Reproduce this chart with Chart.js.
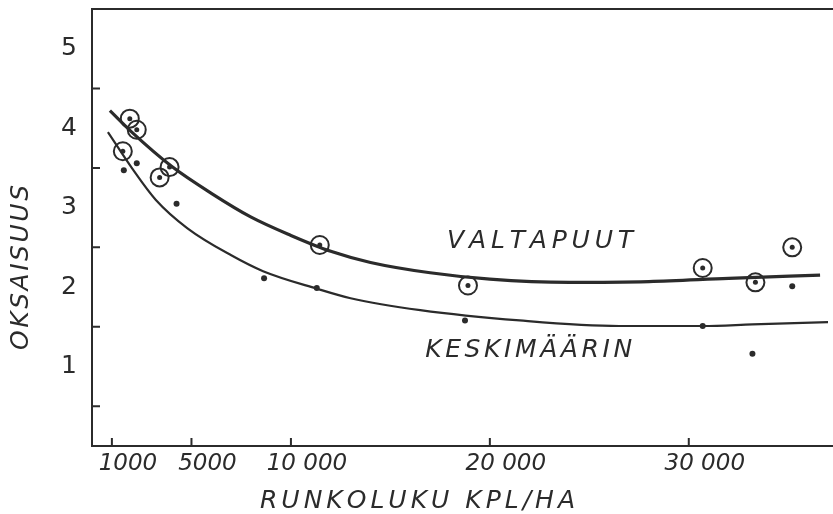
<!DOCTYPE html>
<html>
<head>
<meta charset="utf-8">
<script src="https://cdn.jsdelivr.net/npm/chart.js@4.4.1/dist/chart.umd.min.js"></script>
<style>
body { margin: 0; background: #fff; }
#wrap { width: 833px; height: 514px; position: relative; }
</style>
</head>
<body>
<div id="wrap"><canvas id="myChart"></canvas></div>
<script>
// measured points: valtapuut (ringed) and keskimäärin (dots)
var valtaX = [1550, 1900, 2250, 3400, 3900, 11450, 18900, 30700, 33350, 35200]
var valtaY = [3.71, 4.12, 3.98, 3.38, 3.51, 2.53, 2.02, 2.24, 2.06, 2.50]

var keskiX = [1600, 2250, 4250, 8650, 11300, 18750, 30700, 33200, 35200]
var keskiY = [3.47, 3.56, 3.05, 2.11, 1.99, 1.58, 1.51, 1.16, 2.01]

// fitted curves as drawn
var valtaCurveX = [900, 2000, 4000, 6000, 8000, 10000, 12000, 14000, 17000, 20000, 24000, 28000, 32000, 36600]
var valtaCurveY = [4.22, 3.95, 3.52, 3.18, 2.88, 2.65, 2.45, 2.31, 2.18, 2.10, 2.06, 2.07, 2.11, 2.15]

var keskiCurveX = [800, 2000, 3200, 4800, 7000, 8600, 11300, 13000, 16500, 21500, 26500, 30700, 33200, 37000]
var keskiCurveY = [3.95, 3.50, 3.10, 2.74, 2.40, 2.20, 1.98, 1.86, 1.71, 1.58, 1.51, 1.51, 1.53, 1.56]

var xTicks = [1000, 5000, 10000, 20000, 30000]
var xTickLabels = ['1000', '5000', '10 000', '20 000', '30 000']
var yTickMarks = [0.5, 1.5, 2.5, 3.5, 4.5]

var ink = '#2b2b2b'

function pts(xs, ys) {
    return xs.map(function(x, i){ return {x: x, y: ys[i]} })
}

// hand lettering: spread the letters over a given width
function spaced(ctx, text, x, y, width) {
    var chars = text.split('')
    var w = chars.map(function(c){ return ctx.measureText(c).width })
    var total = w.reduce(function(a, b){ return a + b }, 0)
    var gap = (width - total) / (chars.length - 1)
    var cx = x
    chars.forEach(function(c, i){
        ctx.fillText(c, cx, y)
        cx += w[i] + gap
    })
}

function noPad(scale) {
    scale.paddingTop = 0
    scale.paddingBottom = 0
    scale.paddingLeft = 0
    scale.paddingRight = 0
}

var paperPlugin = {
    id: 'paper',
    afterDraw: function(chart) {
        var ctx = chart.ctx, a = chart.chartArea
        var xs = chart.scales.x, ys = chart.scales.y
        ctx.save()
        ctx.strokeStyle = ink
        ctx.lineWidth = 2
        ctx.beginPath()
        ctx.moveTo(a.left - 1, a.top)
        ctx.lineTo(a.right, a.top)
        xTicks.forEach(function(v){
            var px = xs.getPixelForValue(v)
            ctx.moveTo(px, a.bottom)
            ctx.lineTo(px, a.bottom - 8)
        })
        yTickMarks.forEach(function(v){
            var py = ys.getPixelForValue(v)
            ctx.moveTo(a.left, py)
            ctx.lineTo(a.left + 8, py)
        })
        ctx.stroke()

        ctx.fillStyle = ink
        ctx.textBaseline = 'alphabetic'
        ctx.textAlign = 'left'
        ctx.font = 'italic 25px "DejaVu Sans"'
        spaced(ctx, 'VALTAPUUT', xs.getPixelForValue(17850), ys.getPixelForValue(2.49), 186)
        spaced(ctx, 'KESKIMÄÄRIN', xs.getPixelForValue(16750), ys.getPixelForValue(1.12), 207)

        // axis titles
        spaced(ctx, 'RUNKOLUKU KPL/HA', 260, a.bottom + 62, 315)
        ctx.translate(28, 350)
        ctx.rotate(-Math.PI / 2)
        spaced(ctx, 'OKSAISUUS', 0, 0, 165)
        ctx.restore()
    }
}

var myChart = document.getElementById('myChart').getContext('2d')
var chart = new Chart(myChart, {
    type: 'scatter',
    data: {
        datasets: [
            {
                label: 'Valtapuut (käyrä)',
                data: pts(valtaCurveX, valtaCurveY),
                showLine: true,
                borderColor: ink,
                borderWidth: 3.2,
                pointRadius: 0,
                cubicInterpolationMode: 'monotone'
            },
            {
                label: 'Keskimäärin (käyrä)',
                data: pts(keskiCurveX, keskiCurveY),
                showLine: true,
                borderColor: ink,
                borderWidth: 2.2,
                pointRadius: 0,
                cubicInterpolationMode: 'monotone'
            },
            {
                label: 'Valtapuut',
                data: pts(valtaX, valtaY),
                pointRadius: 9,
                pointBorderWidth: 2,
                pointBorderColor: ink,
                pointBackgroundColor: 'rgba(255,255,255,0)'
            },
            {
                label: 'Valtapuut (keskipiste)',
                data: pts(valtaX, valtaY),
                pointRadius: 2.5,
                pointBorderWidth: 0,
                pointBackgroundColor: ink
            },
            {
                label: 'Keskimäärin',
                data: pts(keskiX, keskiY),
                pointRadius: 3,
                pointBorderWidth: 0,
                pointBackgroundColor: ink
            }
        ]
    },
    options: {
        responsive: true,
        maintainAspectRatio: false,
        animation: false,
        layout: { autoPadding: false, padding: { top: 9, right: 0, bottom: 0, left: 0 } },
        plugins: { legend: { display: false }, tooltip: { enabled: false } },
        scales: {
            x: {
                type: 'linear',
                min: 0,
                max: 37250,
                grid: { display: false, drawTicks: false },
                border: { display: true, color: ink, width: 2 },
                afterBuildTicks: function(scale){
                    scale.ticks = xTicks.map(function(v){ return {value: v} })
                },
                afterFit: function(scale){ scale.height = 68; noPad(scale) },
                ticks: {
                    autoSkip: false,
                    maxRotation: 0,
                    labelOffset: 16,
                    padding: 4,
                    color: ink,
                    font: { family: 'DejaVu Sans', size: 23, style: 'italic' },
                    callback: function(v){ return xTickLabels[xTicks.indexOf(v)] }
                }
            },
            y: {
                min: 0,
                max: 5.5,
                grid: { display: false, drawTicks: false },
                border: { display: true, color: ink, width: 2 },
                afterFit: function(scale){ scale.width = 92; noPad(scale) },
                ticks: {
                    stepSize: 0.5,
                    autoSkip: false,
                    padding: 15,
                    color: ink,
                    font: { family: 'DejaVu Sans', size: 25 },
                    callback: function(v){ return (v > 0 && v % 1 === 0) ? String(v) : '' }
                }
            }
        }
    },
    plugins: [paperPlugin]
})
</script>
</body>
</html>
